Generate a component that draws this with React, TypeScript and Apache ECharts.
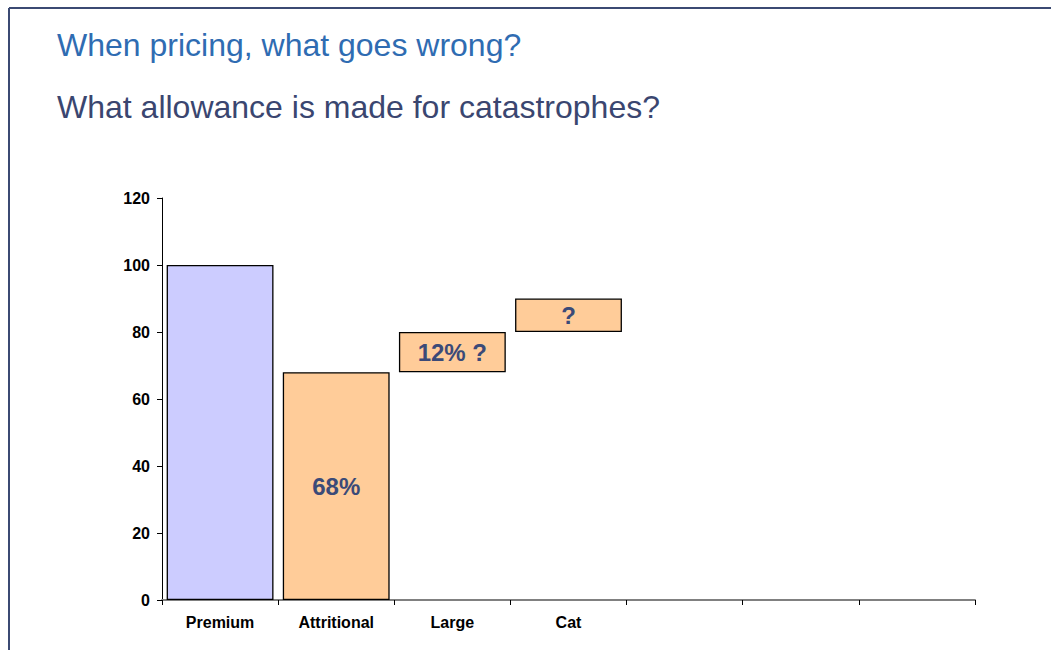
import React, { useEffect, useRef } from "react";
import * as echarts from "echarts";

const categories = ["Premium", "Attritional", "Large", "Cat", "", "", ""];
const baseValues: (number | string)[] = [0, 0, 68, 80, "-", "-", "-"];
const stepValues: (number | string)[] = [100, 68, 12, 10, "-", "-", "-"];
const stepLabels = ["", "68%", "12% ?", "?", "", "", ""];
const stepColors = ["#CCCCFF", "#FFCC99", "#FFCC99", "#FFCC99", "#FFCC99", "#FFCC99", "#FFCC99"];
const yTicks = { min: 0, max: 120, interval: 20 };
const titleText = "When pricing, what goes wrong?";
const subtitleText = "What allowance is made for catastrophes?";

export default function App() {
  const ref = useRef<HTMLDivElement>(null);
  useEffect(() => {
    if (!ref.current) return;
    const chart = echarts.init(ref.current, null, { renderer: "svg" });
    const font = "Arial, 'Liberation Sans', Helvetica, sans-serif";
    chart.setOption({
      animation: false,
      backgroundColor: "#ffffff",
      textStyle: { fontFamily: font },
      graphic: [
        { type: "line", shape: { x1: 9, y1: 8, x2: 1051, y2: 8 }, style: { stroke: "#3B4A73", lineWidth: 2 } },
        { type: "line", shape: { x1: 9, y1: 8, x2: 9, y2: 650 }, style: { stroke: "#3B4A73", lineWidth: 2 } },
        {
          type: "text",
          x: 57,
          y: 45,
          style: { text: titleText, font: `32px ${font}`, fill: "#2F6CB2", verticalAlign: "middle", align: "left" },
        },
        {
          type: "text",
          x: 57,
          y: 107,
          style: { text: subtitleText, font: `32px ${font}`, fill: "#3A4670", verticalAlign: "middle", align: "left" },
        },
      ],
      grid: { left: 162, right: 76, top: 198, bottom: 50, containLabel: false },
      xAxis: {
        type: "category",
        data: categories,
        axisLine: { show: true, lineStyle: { color: "#808080", width: 2 } },
        axisTick: { show: true, length: 5, interval: 0, lineStyle: { color: "#000000", width: 1 } },
        axisLabel: { interval: 0, color: "#000000", fontWeight: "bold", fontSize: 16, margin: 14, fontFamily: font },
        splitLine: { show: false },
      },
      yAxis: {
        type: "value",
        min: yTicks.min,
        max: yTicks.max,
        interval: yTicks.interval,
        axisLine: { show: true, lineStyle: { color: "#000000", width: 1 } },
        axisTick: { show: true, length: 5, inside: false, lineStyle: { color: "#000000" } },
        axisLabel: { color: "#000000", fontWeight: "bold", fontSize: 16, margin: 12, fontFamily: font },
        splitLine: { show: false },
      },
      series: [
        {
          type: "bar",
          stack: "wf",
          data: baseValues,
          itemStyle: { color: "transparent", borderWidth: 0 },
          barCategoryGap: "8%",
          silent: true,
        },
        {
          type: "bar",
          stack: "wf",
          barCategoryGap: "8%",
          data: stepValues.map((v, i) => ({
            value: v,
            itemStyle: { color: stepColors[i], borderColor: "#000000", borderWidth: 1.3 },
            label: {
              show: stepLabels[i] !== "",
              formatter: stepLabels[i],
              position: "inside",
              color: "#3B4A78",
              fontWeight: "bold",
              fontSize: 24,
              fontFamily: font,
            },
          })),
        },
      ],
    });
    return () => chart.dispose();
  }, []);
  return (
    <div
      ref={ref}
      style={{ position: "fixed", left: 0, top: 0, width: 1051, height: 650, background: "#fff" }}
    />
  );
}
